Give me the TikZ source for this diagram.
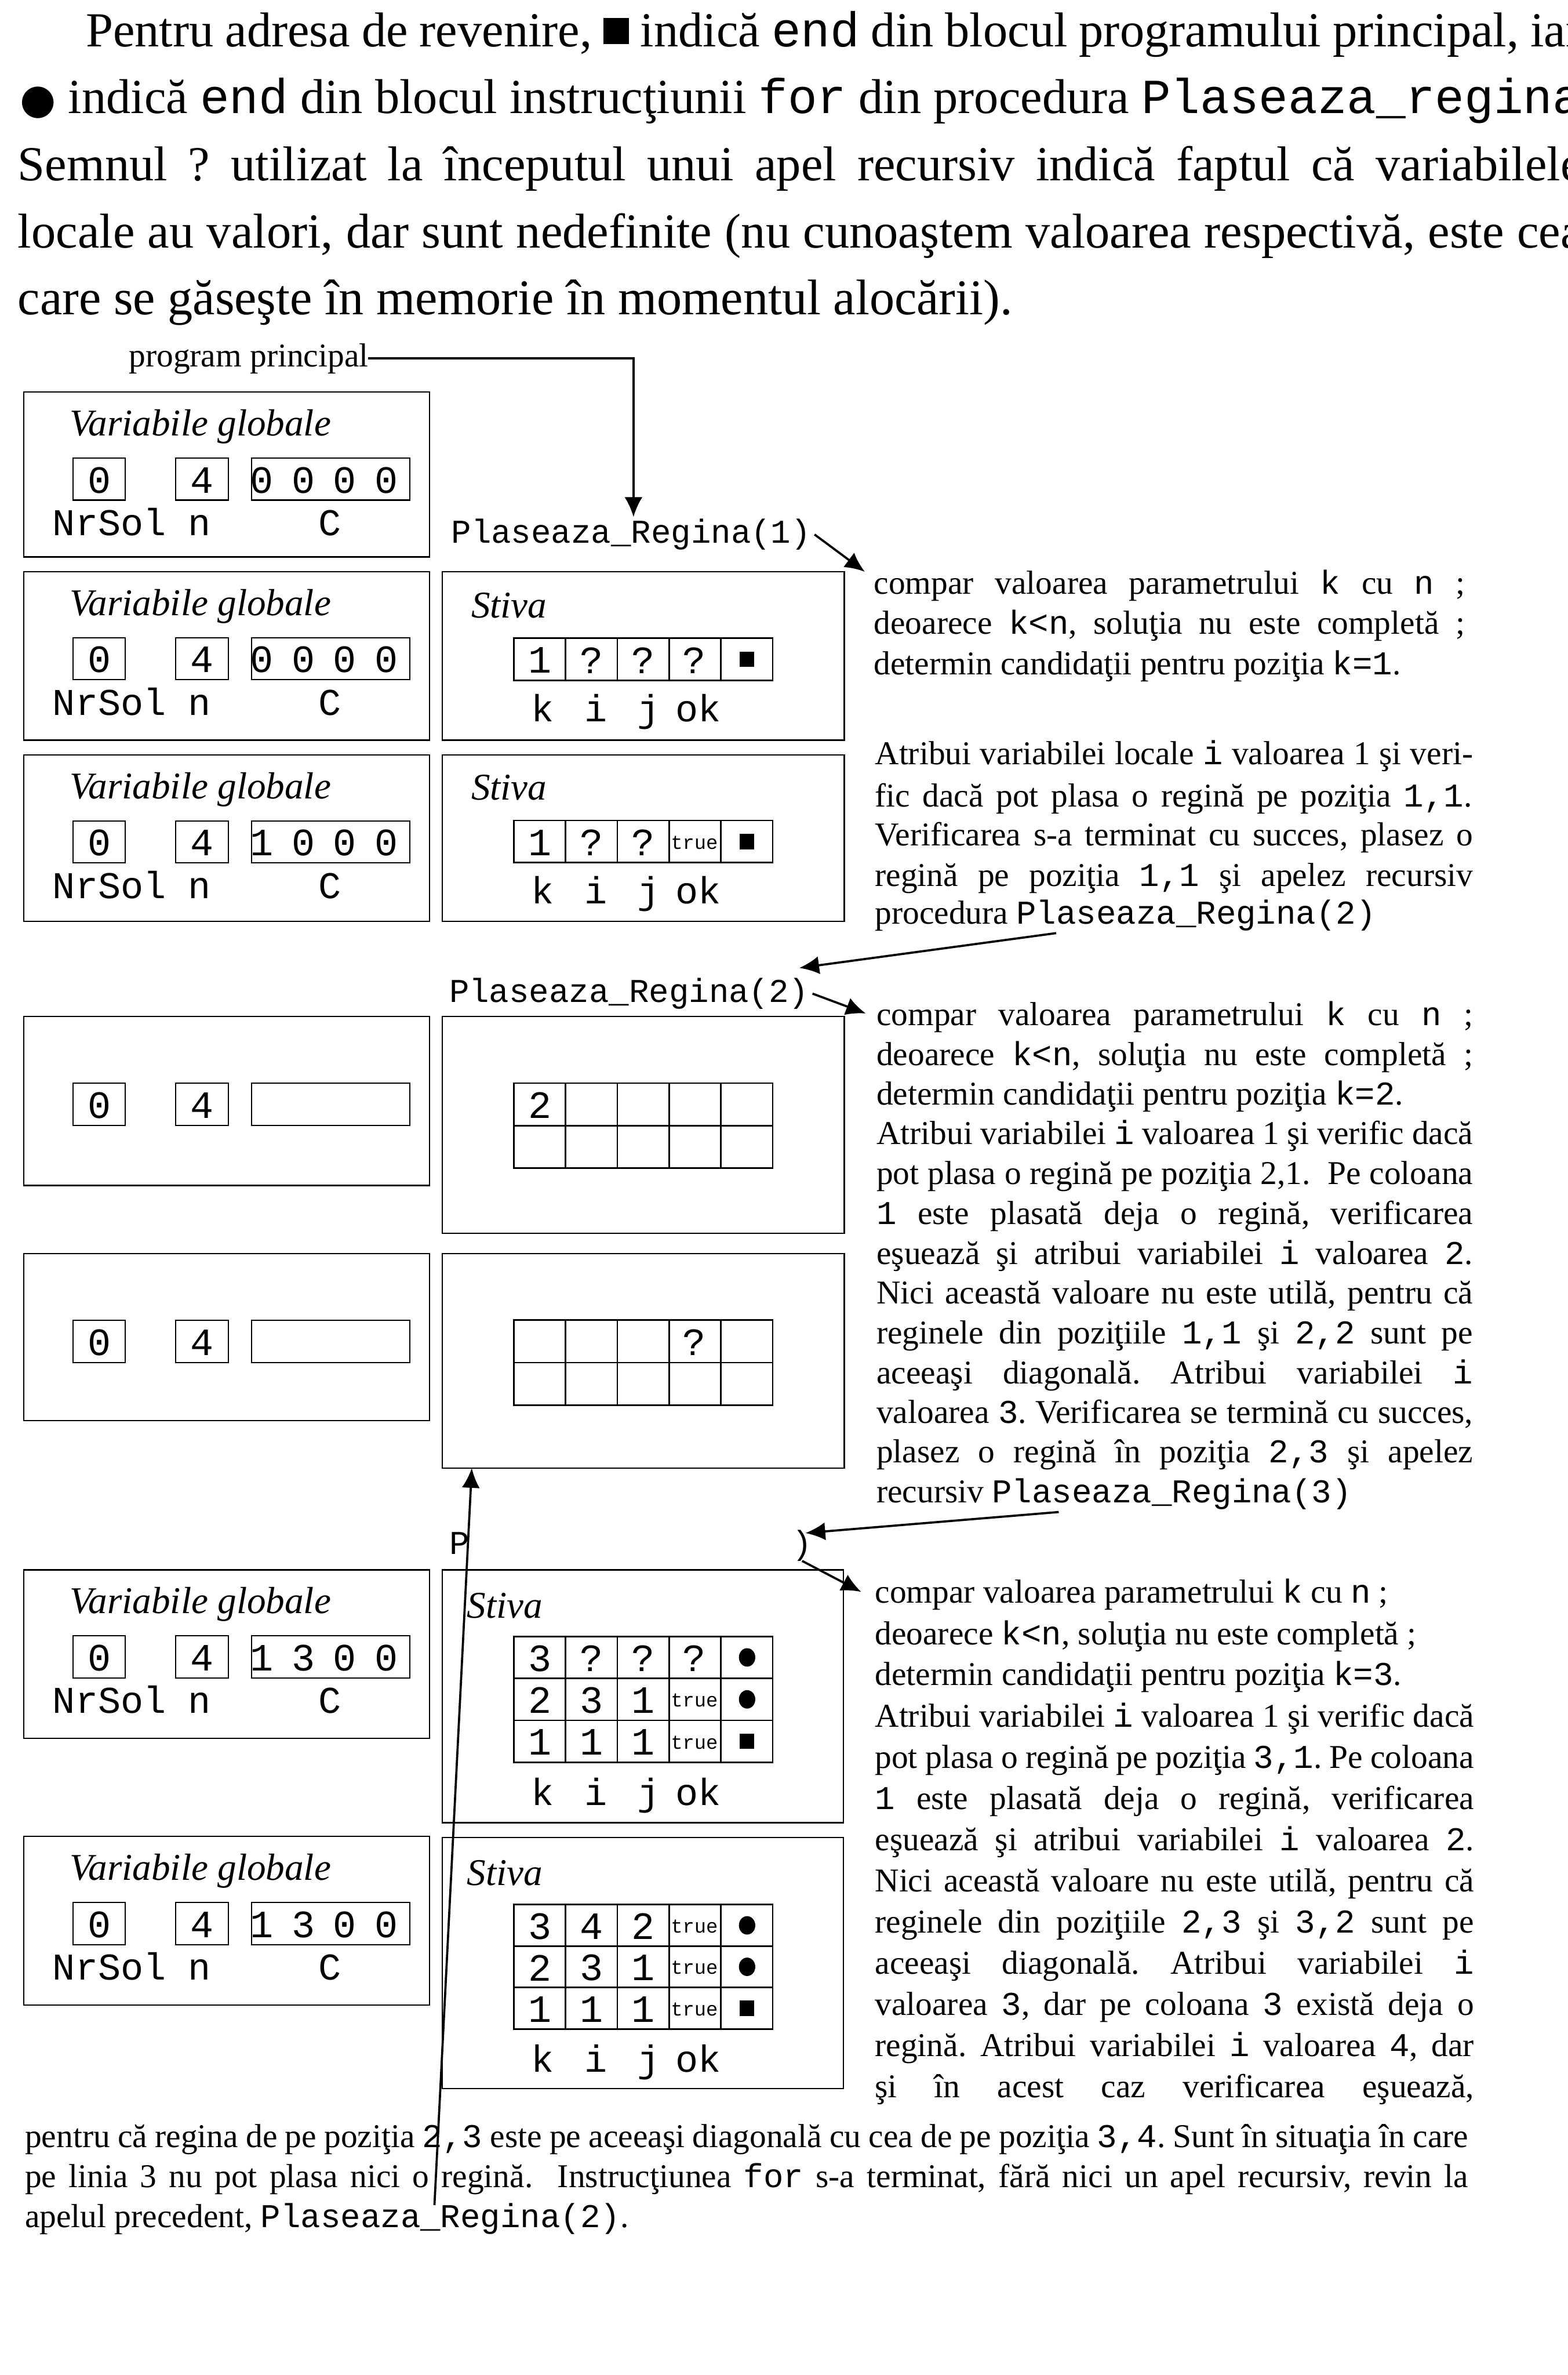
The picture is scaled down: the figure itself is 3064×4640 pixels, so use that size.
\documentclass[tikz,border=0pt]{standalone}
\usepackage{fontspec}
\setmainfont{Liberation Serif}
\setmonofont{Liberation Mono}
\newfontfamily\djv{DejaVu Sans}
\usetikzlibrary{arrows.meta}
\frenchspacing
\newcommand\JL[6]{\node[tl,#1] (#2) at (#3,#4) {\makebox[#5cm][s]{#6}};}
\newcommand\NL[5]{\node[tl,#1] (#2) at (#3,#4) {#5};}
\newcommand\tru{\fontsize{10.9}{12}\selectfont\ttfamily true}
% global variables box: prefix, top, bottom, C digits
\newcommand\VGfull[4]{%
  \draw[box] (46,#2) rectangle (839,#3);
  \node[vg,tl] (#1t) at (136,{#2+85}) {Variabile globale};
  \draw[box] (143,{#2+129}) rectangle (245,{#2+211});
  \draw[box] (343,{#2+129}) rectangle (446,{#2+211});
  \draw[box] (492,{#2+129}) rectangle (801,{#2+211});
  \node[dig] (#1a) at (194,{#2+172}) {0};
  \node[dig] (#1b) at (395,{#2+172}) {4};
  \foreach \dd [count=\cc] in {#4} {\node[dig] (#1c\cc) at ({431+81*\cc},{#2+172}) {\dd};}
  \node[lab,tl] (#1l1) at (103,{#2+280}) {NrSol};
  \node[lab,tc] (#1l2) at (390,{#2+280}) {n};
  \node[lab,tc] (#1l3) at (645,{#2+280}) {C};
}
\newcommand\VGbare[3]{%
  \draw[box] (46,#2) rectangle (839,#3);
  \draw[box] (143,{#2+130}) rectangle (245,{#2+213});
  \draw[box] (343,{#2+130}) rectangle (446,{#2+213});
  \draw[box] (492,{#2+130}) rectangle (801,{#2+213});
  \node[dig] (#1a) at (194,{#2+174}) {0};
  \node[dig] (#1b) at (395,{#2+174}) {4};
}
% stack row: prefix, top, height, 4 cells, symbol s/c/n
\newcommand\SRow[8]{%
  \foreach \cc in {0,...,4} {\draw[cell] ({1004+101.2*\cc},#2) rectangle ({1105.2+101.2*\cc},{#2+#3});}
  \node[dig] (#1k) at (1055,{#2+#3/2+2}) {#4};
  \node[dig] (#1i) at (1156,{#2+#3/2+2}) {#5};
  \node[dig] (#1j) at (1257,{#2+#3/2+2}) {#6};
  \node[dig] (#1o) at (1357,{#2+#3/2+2}) {#7};
  \ifx s#8 \fill (1446,{#2+#3/2-15}) rectangle (1474,{#2+#3/2+15}); \fi
  \ifx c#8 \fill (1460,{#2+#3/2}) ellipse [x radius=0.16cm, y radius=0.18cm]; \fi
}
\newcommand\SLab[2]{%
  \node[lab,tc] (#1k) at (1060,#2) {k};
  \node[lab,tc] (#1i) at (1165,#2) {i};
  \node[lab,tc] (#1j) at (1268,#2) {j};
  \node[lab,tc] (#1o) at (1365,#2) {ok};
}
\begin{document}
\begin{tikzpicture}[x=0.01cm,y=-0.01cm,
  tl/.style={anchor=base west,inner sep=0pt,outer sep=0pt},
  tc/.style={anchor=base,inner sep=0pt,outer sep=0pt},
  topf/.style={font=\fontsize{27.2}{32}\selectfont},
  topg/.style={font=\fontsize{27.8}{32}\selectfont},
  rtf/.style={font=\fontsize{18.5}{22}\selectfont},
  hf/.style={font=\fontsize{18.5}{22}\selectfont\ttfamily},
  vg/.style={font=\fontsize{21}{24}\selectfont\itshape},
  lab/.style={font=\fontsize{21}{24}\selectfont\ttfamily},
  dig/.style={font=\fontsize{21.5}{24}\selectfont\ttfamily,anchor=center,inner sep=0pt},
  box/.style={line width=0.7pt},
  cell/.style={line width=0.9pt},
  arr/.style={line width=1.2pt,-{Latex[length=11pt,width=10pt]}},
]
\useasboundingbox (0,0) rectangle (3064,4640);
\fill[white] (0,0) rectangle (3064,4640);
\clip (0,0) rectangle (3064,4640);

% ---------- top paragraph ----------
\JL{topf}{top1}{168}{91}{29.22}{Pentru adresa de revenire, \raisebox{1.4pt}{\rule{14pt}{14.5pt}} indică \texttt{end} din blocul programului principal, iar}
\JL{topf}{top2}{39}{222}{30.51}{{\fontsize{23}{24}\selectfont\djv ●} indică \texttt{end} din blocul instrucţiunii \texttt{for} din procedura \texttt{Plaseaza\_regina}}
\JL{topf}{top3}{35}{353}{30.55}{Semnul ? utilizat la începutul unui apel recursiv indică faptul că variabilele}
\JL{topf}{top4}{35}{484}{30.55}{locale au valori, dar sunt nedefinite (nu cunoaştem valoarea respectivă, este cea}
\NL{topg}{top5}{35}{615}{care se găseşte în memorie în momentul alocării).}

% ---------- program principal ----------
\NL{rtf}{pp}{252}{716}{program principal}
\coordinate (t1) at (1238,1010);
\draw[arr] (pp.east) -| (t1);
\NL{hf}{pr1}{882}{1061}{Plaseaza\_Regina(1)}

% ---------- row 1 ----------
\VGfull{ra}{766}{1088}{0,0,0,0}

% ---------- row 2 ----------
\VGfull{rb}{1117}{1446}{0,0,0,0}
\draw[box] (864,1117) rectangle (1650,1446);
\node[vg,tl] (sbt) at (921,1207) {Stiva};
\SRow{sb1}{1247}{82}{1}{?}{?}{?}{s}
\SLab{sbl}{1410}

% ---------- row 3 ----------
\VGfull{rc}{1475}{1800}{1,0,0,0}
\draw[box] (864,1475) rectangle (1650,1800);
\node[vg,tl] (sct) at (921,1563) {Stiva};
\SRow{sc1}{1603}{82}{1}{?}{?}{\tru}{s}
\SLab{scl}{1765}

% ---------- Plaseaza_Regina(2) ----------
\NL{hf}{pr2}{878}{1958}{Plaseaza\_Regina(2)}

% ---------- row 4 ----------
\VGbare{rd}{1986}{2316}
\draw[box] (864,1986) rectangle (1650,2409);
\SRow{sd1}{2116}{83}{2}{}{}{}{n}
\SRow{sd2}{2199}{83}{}{}{}{}{n}

% ---------- row 5 ----------
\VGbare{re}{2449}{2775}
\draw[box] (864,2449) rectangle (1650,2868);
\SRow{se1}{2579}{83}{}{}{}{?}{n}
\SRow{se2}{2662}{83}{}{}{}{}{n}

% ---------- remnants of Plaseaza_Regina(3) ----------
\NL{hf}{pr3a}{878}{3037}{P}
\NL{hf}{pr3b}{1548}{3036}{)}

% ---------- row 6 ----------
\VGfull{rf}{3067}{3396}{1,3,0,0}
\draw[box] (864,3067) rectangle (1648,3561);
\node[vg,tl] (sft) at (913,3161) {Stiva};
\SRow{sf1}{3197}{82}{3}{?}{?}{?}{c}
\SRow{sf2}{3279}{82}{2}{3}{1}{\tru}{c}
\SRow{sf3}{3361}{82}{1}{1}{1}{\tru}{s}
\SLab{sfl}{3527}

% ---------- row 7 ----------
\VGfull{rg}{3588}{3917}{1,3,0,0}
\draw[box] (864,3590) rectangle (1648,4080);
\node[vg,tl] (sgt) at (913,3683) {Stiva};
\SRow{sg1}{3721}{81}{3}{4}{2}{\tru}{c}
\SRow{sg2}{3802}{81}{2}{3}{1}{\tru}{c}
\SRow{sg3}{3883}{81}{1}{1}{1}{\tru}{s}
\SLab{sgl}{4048}

% ---------- right paragraphs ----------
\JL{rtf}{a1}{1708}{1160}{11.54}{compar valoarea parametrului \texttt{k} cu \texttt{n} ;}
\JL{rtf}{a2}{1708}{1239}{11.54}{deoarece \texttt{k<n}, soluţia nu este completă ;}
\NL{rtf}{a3}{1708}{1318}{determin candidaţii pentru poziţia \texttt{k=1}.}

\JL{rtf}{b1}{1710}{1494}{11.68}{Atribui variabilei locale \texttt{i} valoarea 1 şi veri-}
\JL{rtf}{b2}{1710}{1576}{11.66}{fic dacă pot plasa o regină pe poziţia \texttt{1,1}.}
\JL{rtf}{b3}{1710}{1652}{11.68}{Verificarea s-a terminat cu succes, plasez o}
\JL{rtf}{b4}{1710}{1731}{11.68}{regină pe poziţia \texttt{1,1} şi apelez recursiv}
\NL{rtf}{b5}{1710}{1805}{procedura \texttt{Plaseaza\_Regina(2)}}

\JL{rtf}{c1}{1713}{2003}{11.65}{compar valoarea parametrului \texttt{k} cu \texttt{n} ;}
\JL{rtf}{c2}{1713}{2081}{11.65}{deoarece \texttt{k<n}, soluţia nu este completă ;}
\NL{rtf}{c3}{1713}{2158}{determin candidaţii pentru poziţia \texttt{k=2}.}
\JL{rtf}{c4}{1713}{2236}{11.65}{Atribui variabilei \texttt{i} valoarea 1 şi verific dacă}
\JL{rtf}{c5}{1713}{2314}{11.65}{pot plasa o regină pe poziţia 2,1.\ \ Pe coloana}
\JL{rtf}{c6}{1713}{2392}{11.65}{\texttt{1} este plasată deja o regină, verificarea}
\JL{rtf}{c7}{1713}{2470}{11.65}{eşuează şi atribui variabilei \texttt{i} valoarea \texttt{2}.}
\JL{rtf}{c8}{1713}{2547}{11.65}{Nici această valoare nu este utilă, pentru că}
\JL{rtf}{c9}{1713}{2625}{11.65}{reginele din poziţiile \texttt{1,1} şi \texttt{2,2} sunt pe}
\JL{rtf}{c10}{1713}{2703}{11.65}{aceeaşi diagonală. Atribui variabilei \texttt{i}}
\JL{rtf}{c11}{1713}{2781}{11.65}{valoarea \texttt{3}. Verificarea se termină cu succes,}
\JL{rtf}{c12}{1713}{2858}{11.65}{plasez o regină în poziţia \texttt{2,3} şi apelez}
\NL{rtf}{c13}{1713}{2936}{recursiv \texttt{Plaseaza\_Regina(3)}}

\NL{rtf}{d1}{1710}{3132}{compar valoarea parametrului \texttt{k} cu \texttt{n} ;}
\NL{rtf}{d2}{1710}{3213}{deoarece \texttt{k<n}, soluţia nu este completă ;}
\NL{rtf}{d3}{1710}{3293}{determin candidaţii pentru poziţia \texttt{k=3}.}
\JL{rtf}{d4}{1710}{3374}{11.70}{Atribui variabilei \texttt{i} valoarea 1 şi verific dacă}
\JL{rtf}{d5}{1710}{3454}{11.70}{pot plasa o regină pe poziţia \texttt{3,1}. Pe coloana}
\JL{rtf}{d6}{1710}{3535}{11.70}{\texttt{1} este plasată deja o regină, verificarea}
\JL{rtf}{d7}{1710}{3615}{11.70}{eşuează şi atribui variabilei \texttt{i} valoarea \texttt{2}.}
\JL{rtf}{d8}{1710}{3696}{11.70}{Nici această valoare nu este utilă, pentru că}
\JL{rtf}{d9}{1710}{3776}{11.70}{reginele din poziţiile \texttt{2,3} şi \texttt{3,2} sunt pe}
\JL{rtf}{d10}{1710}{3857}{11.70}{aceeaşi diagonală. Atribui variabilei \texttt{i}}
\JL{rtf}{d11}{1710}{3937}{11.70}{valoarea \texttt{3}, dar pe coloana \texttt{3} există deja o}
\JL{rtf}{d12}{1710}{4018}{11.70}{regină. Atribui variabilei \texttt{i} valoarea \texttt{4}, dar}
\JL{rtf}{d13}{1710}{4098}{11.70}{şi în acest caz verificarea eşuează,}

\JL{rtf}{e1}{49}{4195}{28.19}{pentru că regina de pe poziţia \texttt{2,3} este pe aceeaşi diagonală cu cea de pe poziţia \texttt{3,4}. Sunt în situaţia în care}
\JL{rtf}{e2}{49}{4273}{28.19}{pe linia 3 nu pot plasa nici o regină.\ \ Instrucţiunea \texttt{for} s-a terminat, fără nici un apel recursiv, revin la}
\NL{rtf}{e3}{49}{4352}{apelul precedent, \texttt{Plaseaza\_Regina(2)}.}

% ---------- arrows ----------
\coordinate (t2) at (1690,1117);
\draw[arr] ([xshift=2pt]pr1.east) -- (t2);
\coordinate (s3) at (2064,1823);
\coordinate (t3) at (1562,1891);
\draw[arr] (s3) -- (t3);
\coordinate (t4) at (1692,1980);
\draw[arr] ([xshift=2pt]pr2.east) -- (t4);
\coordinate (s5) at (2069,2954);
\coordinate (t5) at (1574,2995);
\draw[arr] (s5) -- (t5);
\coordinate (t6) at (1683,3110);
\draw[arr] (pr3b.south) -- (t6);
\coordinate (s7) at (849,4308);
\coordinate (t7) at (922,2868);
\draw[arr] (s7) -- (t7);
\end{tikzpicture}
\end{document}
